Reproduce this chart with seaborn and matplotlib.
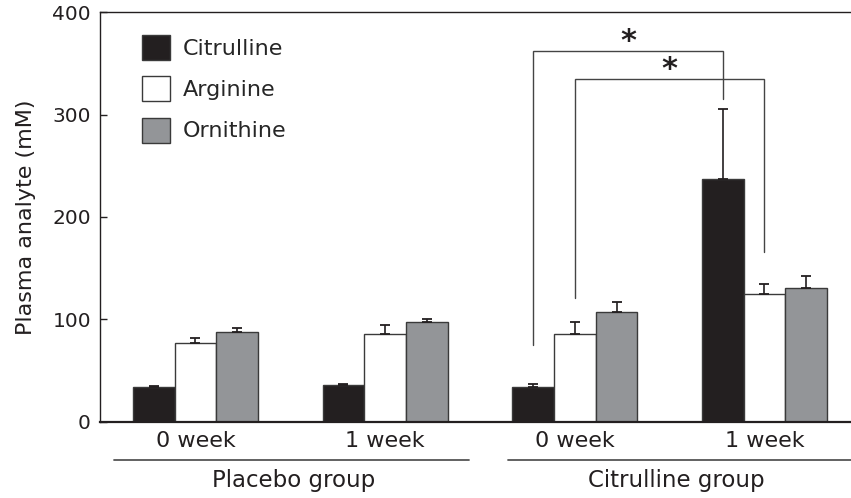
import numpy as np
import pandas as pd
import matplotlib
matplotlib.use("Agg")
import matplotlib.pyplot as plt
import seaborn as sns

# --- data (mean, upper error) ---
conditions = ["P0", "P1", "C0", "C1"]
tick_labels = ["0 week", "1 week", "0 week", "1 week"]
analytes = ["Citrulline", "Arginine", "Ornithine"]

citrulline = [34, 36, 34, 237]
citrulline_err = [1, 1, 3, 69]
arginine = [77, 86, 86, 125]
arginine_err = [5, 8, 11, 10]
ornithine = [88, 97, 107, 131]
ornithine_err = [4, 3, 10, 11]

groups = ["Placebo group", "Citrulline group"]

# significance brackets: (analyte, from condition, to condition, top, left leg end, right leg end)
brackets = [
    ("Citrulline", "C0", "C1", 362, 75, 315),
    ("Arginine", "C0", "C1", 335, 121, 166),
]

colors = {"Citrulline": "#231f20", "Arginine": "#ffffff", "Ornithine": "#939598"}
ink = "#231f20"

df = pd.DataFrame({
    "condition": conditions * 3,
    "analyte": np.repeat(analytes, len(conditions)),
    "value": citrulline + arginine + ornithine,
    "err": citrulline_err + arginine_err + ornithine_err,
})

sns.set_style("ticks")
plt.rcParams["font.family"] = ["DejaVu Sans"]

fig = plt.figure(figsize=(8.51, 4.98), dpi=100)
ax = fig.add_axes([100 / 851, (498 - 421.7) / 498, 751 / 851, 409.4 / 498])

sns.barplot(data=df, x="condition", y="value", hue="analyte", order=conditions,
            hue_order=analytes, palette=colors, saturation=1, width=0.66,
            edgecolor="#3a3a3a", linewidth=1.0, errorbar=None, ax=ax)

# upward-only error bars on top of each bar
centers = {}
for analyte, cont in zip(analytes, ax.containers):
    errs = df[df.analyte == analyte].set_index("condition").loc[conditions, "err"].values
    xs = [p.get_x() + p.get_width() / 2 for p in cont.patches]
    ys = [p.get_height() for p in cont.patches]
    centers[analyte] = dict(zip(conditions, xs))
    ax.errorbar(xs, ys, yerr=[np.zeros(len(errs)), errs], fmt="none",
                ecolor=ink, elinewidth=1.2, capsize=3.5, capthick=1.3, zorder=1)

# significance brackets
for analyte, c0, c1, top, y0, y1 in brackets:
    x0, x1 = centers[analyte][c0], centers[analyte][c1]
    ax.plot([x0, x0, x1, x1], [y0, top, top, y1], color="#444444", lw=1.0,
            solid_joinstyle="miter", zorder=3)
    ax.text((x0 + x1) / 2, top + 1, "*", ha="center", va="baseline",
            fontsize=22, fontweight="bold", color=ink)

ax.set_ylim(0, 400)
ax.set_xlim(-0.503, 3.456)
ax.set_yticks([0, 100, 200, 300, 400])
ax.set_xticks(range(len(conditions)))
ax.set_xticklabels(tick_labels)
ax.tick_params(axis="x", length=0, pad=7, labelsize=16, labelcolor=ink)
ax.tick_params(axis="y", direction="in", length=5, width=1, pad=6.5,
               labelsize=14.5, labelcolor=ink, color=ink)
ax.set_xlabel("")
ax.set_ylabel("Plasma analyte (mM)", fontsize=16, color=ink, labelpad=12)

for side in ["left", "top"]:
    ax.spines[side].set_visible(True)
    ax.spines[side].set_linewidth(1.0)
    ax.spines[side].set_color(ink)
ax.spines["bottom"].set_linewidth(1.6)
ax.spines["bottom"].set_color(ink)
ax.spines["right"].set_visible(False)

# group lines and labels under the tick labels
tr = ax.get_xaxis_transform()
for (gx0, gx1, gc), name in zip([(-0.43, 1.44, 0.52), (1.65, 3.47, 2.535)], groups):
    ax.plot([gx0, gx1], [-0.0935, -0.0935], transform=tr, clip_on=False,
            color="#555555", lw=1.3)
    ax.text(gc, -0.116, name, transform=tr, ha="center", va="top",
            fontsize=16.5, color=ink)

ax.legend(loc="upper left", bbox_to_anchor=(42 / 751, 0.945), frameon=False,
          fontsize=16, handlelength=1.25, handleheight=1.35, handletextpad=0.6,
          labelspacing=0.74, borderpad=0, borderaxespad=0)

fig.savefig("out.png", dpi=100)
